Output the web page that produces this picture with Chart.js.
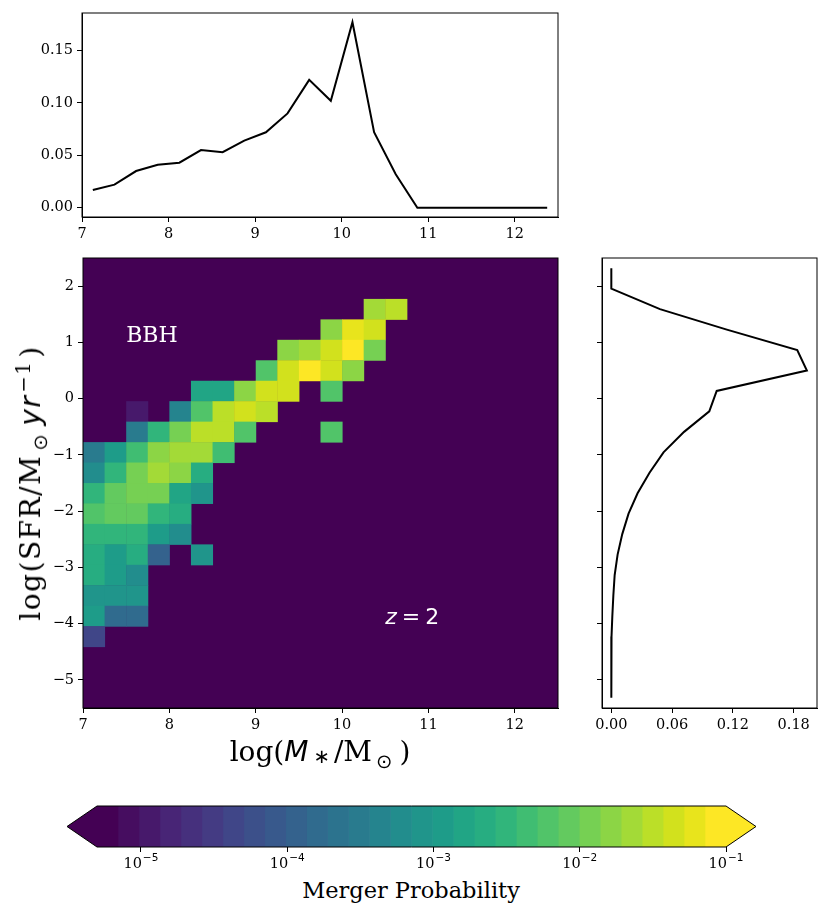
<!DOCTYPE html>
<html>
<head>
<meta charset="utf-8">
<script src="https://cdn.jsdelivr.net/npm/chart.js@4.4.0/dist/chart.umd.min.js"></script>
<style>
  body { margin: 0; background: #fff; width: 831px; height: 914px; position: relative; overflow: hidden; font-family: 'DejaVu Serif', serif; }
  .box { position: absolute; }
  .lbl { position: absolute; white-space: nowrap; color: #000; transform: translate(-50%, -50%); line-height: 1; }
  .lbl sub, .lbl sup { font-size: 70%; line-height: 0; }
  .mi { font-family: 'DejaVu Sans', sans-serif; font-style: italic; }
  .sun { font-family: 'DejaVu Sans', sans-serif; margin: 0 7px 0 4px; }
  .ast { font-family: 'DejaVu Sans', sans-serif; margin: 0 4px 0 5px; vertical-align: -0.1em; }
  #ylab { transform: translate(-50%, -50%) rotate(-90deg); letter-spacing: 1.5px; }
  #ylab sup { margin: 0 3px 0 2px; }
</style>
</head>
<body>
<div class="box" style="left:0;top:0;width:570px;height:245px"><canvas id="chartTop"></canvas></div>
<div class="box" style="left:0;top:245px;width:570px;height:493px"><canvas id="chartMain"></canvas></div>
<div class="box" style="left:560px;top:245px;width:271px;height:493px"><canvas id="chartSide"></canvas></div>
<div class="box" style="left:0;top:790px;width:831px;height:80px"><canvas id="chartBar"></canvas></div>
<div class="lbl" id="ylab" style="left:31px;top:483px;font-size:28px">log(SFR/M<sub class="sun">⊙</sub><span class="mi">yr</span><sup>−1</sup>)</div>
<div class="lbl" id="xlab" style="left:320px;top:752px;font-size:28px">log(<span class="mi">M</span><sub class="ast">∗</sub>/M<sub class="sun">⊙</sub>)</div>
<div class="lbl" id="cblab" style="left:411px;top:890px;font-size:22.5px">Merger Probability</div>
<script>
// Datos de la figura
const massCenters = [7.125, 7.375, 7.625, 7.875, 8.125, 8.375, 8.625, 8.875, 9.125, 9.375, 9.625,
  9.875, 10.125, 10.375, 10.625, 10.875, 11.125, 11.375, 11.625, 11.875, 12.125, 12.375];
const sfrCenters = [2.318, 1.955, 1.591, 1.227, 0.864, 0.500, 0.136, -0.227, -0.591, -0.955, -1.318,
  -1.682, -2.045, -2.409, -2.773, -3.136, -3.500, -3.864, -4.227, -4.591, -4.955, -5.318];

// Distribución marginal en masa (panel superior)
const massMarginal = [0.017, 0.022, 0.035, 0.041, 0.043, 0.055, 0.053, 0.064, 0.072, 0.090, 0.122,
  0.102, 0.177, 0.072, 0.032, 0, 0, 0, 0, 0, 0, 0];
// Distribución marginal en SFR (panel derecho)
const sfrMarginal = [0, 0, 0.048, 0.114, 0.1835, 0.193, 0.104, 0.0967, 0.0718, 0.0515, 0.0377,
  0.0259, 0.017, 0.0108, 0.0062, 0.0033, 0.002, 0.001, 0.0002, 0, 0, 0];

// Celdas del mapa: índice de fila SFR (desde arriba), índice de columna de masa, probabilidad
const cellSfrBin = [2, 2, 3, 3, 3, 4, 4, 4, 4, 4, 5, 5, 5, 5, 5, 6, 6, 6, 6, 6, 6,
  7, 7, 7, 7, 7, 7, 8, 8, 8, 8, 8, 8, 8, 9, 9, 9, 9, 9, 9, 9, 10, 10, 10, 10, 10, 10,
  11, 11, 11, 11, 11, 11, 12, 12, 12, 12, 12, 13, 13, 13, 13, 13, 14, 14, 14, 14, 14,
  15, 15, 15, 16, 16, 16, 17, 17, 17, 18];
const cellMassBin = [13, 14, 11, 12, 13, 9, 10, 11, 12, 13, 8, 9, 10, 11, 12, 5, 6, 7, 8, 9, 11,
  2, 4, 5, 6, 7, 8, 2, 3, 4, 5, 6, 7, 11, 0, 1, 2, 3, 4, 5, 6, 0, 1, 2, 3, 4, 5,
  0, 1, 2, 3, 4, 5, 0, 1, 2, 3, 4, 0, 1, 2, 3, 4, 0, 1, 2, 3, 5,
  0, 1, 2, 0, 1, 2, 0, 1, 2, 0];
const cellProb = [2.3e-2, 3.7e-2, 1.7e-2, 6.7e-2, 5.0e-2, 1.45e-2, 2.5e-2, 5.0e-2, 0.12, 1.25e-2,
  5.2e-3, 5.0e-2, 0.12, 3.8e-2, 1.7e-2, 1.9e-3, 1.9e-3, 1.9e-2, 5.0e-2, 5.0e-2, 5.2e-3,
  1.1e-5, 4.3e-4, 5.2e-3, 2.8e-2, 5.0e-2, 2.8e-2,
  2.7e-4, 3.1e-3, 1.25e-2, 2.8e-2, 2.8e-2, 5.2e-3, 5.2e-3,
  3.2e-4, 1.16e-3, 4.2e-3, 1.45e-2, 2.05e-2, 2.05e-2, 4.2e-3,
  5.8e-4, 3.1e-3, 1.03e-2, 2.05e-2, 1.45e-2, 2.6e-3,
  3.1e-3, 7.6e-3, 1.03e-2, 1.03e-2, 1.4e-3, 9.5e-4,
  5.2e-3, 7.6e-3, 7.6e-3, 3.1e-3, 1.95e-3,
  3.5e-3, 3.5e-3, 3.5e-3, 1.05e-3, 5.3e-4,
  2.3e-3, 1.16e-3, 2.3e-3, 1.3e-4, 7.3e-4,
  1.95e-3, 1.05e-3, 5.3e-4, 7.3e-4, 7.3e-4, 7.3e-4, 1.05e-3, 1.8e-4, 1.8e-4, 3.7e-5];

// Ejes y etiquetas
const massTicks = [7, 8, 9, 10, 11, 12];
const sfrTicks = [-5, -4, -3, -2, -1, 0, 1, 2];
const topTicks = [0, 0.05, 0.10, 0.15];
const sideTicks = [0, 0.06, 0.12, 0.18];
const cbarTicks = [1e-5, 1e-4, 1e-3, 1e-2, 1e-1];
const cbarTickExps = ['−5', '−4', '−3', '−2', '−1'];

// Rangos de los ejes
const massRange = [7, 12.5];
const sfrRange = [-5.5, 2.5];
const binHalfMass = 0.125;
const binHalfSfr = 0.1818;
const cbarLogMin = -5.3;
const cbarLogMax = -1;
const cbarLevels = 30;

// Paleta viridis (21 puntos de anclaje)
const VIRIDIS = ['#440154', '#471365', '#482475', '#463480', '#414487', '#3b528b', '#355f8d',
  '#2f6c8e', '#2a788e', '#25848e', '#21918c', '#1e9c89', '#22a884', '#2fb47c', '#44bf70',
  '#5ec962', '#7ad151', '#9bd93c', '#bddf26', '#dfe318', '#fde725'];

function hexToRgb(h) {
  return [parseInt(h.substr(1, 2), 16), parseInt(h.substr(3, 2), 16), parseInt(h.substr(5, 2), 16)];
}

function viridis(t) {
  t = Math.max(0, Math.min(1, t));
  const pos = t * (VIRIDIS.length - 1);
  const i = Math.min(Math.floor(pos), VIRIDIS.length - 2);
  const f = pos - i;
  const a = hexToRgb(VIRIDIS[i]);
  const b = hexToRgb(VIRIDIS[i + 1]);
  const c = a.map((v, k) => Math.round(v + (b[k] - v) * f));
  return 'rgb(' + c.join(',') + ')';
}

// Color discreto según el nivel logarítmico
function probColor(p) {
  if (!(p > 0)) return VIRIDIS[0];
  const step = (cbarLogMax - cbarLogMin) / cbarLevels;
  const level = Math.floor((Math.log10(p) - cbarLogMin) / step);
  if (level < 0) return VIRIDIS[0];
  if (level >= cbarLevels) return VIRIDIS[VIRIDIS.length - 1];
  return viridis(level / (cbarLevels - 1));
}

const tickFont = { family: 'DejaVu Serif', size: 14.5 };

function axis(kind, min, max, ticks, fmt, size, showLabels) {
  const isX = kind === 'x';
  return {
    type: 'linear',
    position: isX ? 'bottom' : 'left',
    min: min,
    max: max,
    afterBuildTicks: s => { s.ticks = ticks.map(v => ({ value: v })); },
    afterFit: s => {
      if (isX) { s.height = size; } else { s.width = size; }
      s.paddingLeft = 0; s.paddingRight = 0; s.paddingTop = 0; s.paddingBottom = 0;
    },
    ticks: {
      display: showLabels,
      callback: fmt,
      font: tickFont,
      color: '#000',
      padding: 4,
      maxRotation: 0,
      autoSkip: false
    },
    grid: { drawOnChartArea: false, color: '#000', tickLength: 5, tickWidth: 1 },
    border: { color: '#000', width: 1 }
  };
}

// Marco completo alrededor del área del gráfico
const framePlugin = {
  id: 'frame',
  afterDraw(chart) {
    const a = chart.chartArea;
    const ctx = chart.ctx;
    ctx.save();
    ctx.strokeStyle = '#000';
    ctx.lineWidth = 1;
    ctx.strokeRect(a.left, a.top, a.right - a.left, a.bottom - a.top);
    ctx.restore();
  }
};

// Dibuja las celdas del histograma 2D con las escalas de Chart.js
const heatmapPlugin = {
  id: 'heatmap',
  beforeDatasetsDraw(chart) {
    const a = chart.chartArea;
    const xs = chart.scales.x;
    const ys = chart.scales.y;
    const ctx = chart.ctx;
    ctx.save();
    ctx.fillStyle = VIRIDIS[0];
    ctx.fillRect(a.left, a.top, a.right - a.left, a.bottom - a.top);
    chart.data.datasets[0].data.forEach(d => {
      const x0 = xs.getPixelForValue(d.x - binHalfMass);
      const x1 = xs.getPixelForValue(d.x + binHalfMass);
      const y0 = ys.getPixelForValue(d.y + binHalfSfr);
      const y1 = ys.getPixelForValue(d.y - binHalfSfr);
      ctx.fillStyle = probColor(d.p);
      ctx.fillRect(x0, y0, x1 - x0 + 0.5, y1 - y0 + 0.5);
    });
    ctx.restore();
  },
  afterDatasetsDraw(chart) {
    const xs = chart.scales.x;
    const ys = chart.scales.y;
    const ctx = chart.ctx;
    ctx.save();
    ctx.fillStyle = '#fff';
    ctx.textBaseline = 'alphabetic';
    ctx.textAlign = 'left';
    ctx.font = '22px "DejaVu Serif"';
    ctx.fillText('BBH', xs.getPixelForValue(7.5), ys.getPixelForValue(1.0));
    // Texto z = 2 (z en cursiva)
    let px = xs.getPixelForValue(10.5);
    const py = ys.getPixelForValue(-4.0);
    ctx.font = 'italic 22px "DejaVu Sans"';
    ctx.fillText('z', px, py);
    px += ctx.measureText('z').width + 5;
    ctx.font = '22px "DejaVu Sans"';
    ctx.fillText('=', px, py);
    px += ctx.measureText('=').width + 5;
    ctx.fillText('2', px, py);
    ctx.restore();
  }
};

const fmt2 = v => v.toFixed(2);
const fmtInt = v => String(v).replace('-', '−');

// Panel superior: marginal en masa
new Chart(document.getElementById('chartTop'), {
  type: 'scatter',
  data: {
    datasets: [{
      data: massCenters.map((m, i) => ({ x: m, y: massMarginal[i] })),
      showLine: true,
      borderColor: '#000',
      borderWidth: 2,
      pointRadius: 0,
      tension: 0
    }]
  },
  options: {
    responsive: true,
    maintainAspectRatio: false,
    animation: false,
    layout: { padding: { left: 0, right: 12, top: 13, bottom: 0 } },
    plugins: { legend: { display: false }, tooltip: { enabled: false } },
    scales: {
      x: axis('x', massRange[0], massRange[1], massTicks, fmtInt, 28, true),
      y: axis('y', -0.00885, 0.1858, topTicks, fmt2, 82, true)
    }
  },
  plugins: [framePlugin]
});

// Panel principal: mapa de probabilidad
new Chart(document.getElementById('chartMain'), {
  type: 'scatter',
  data: {
    datasets: [{
      data: cellProb.map((p, i) => ({ x: massCenters[cellMassBin[i]], y: sfrCenters[cellSfrBin[i]], p: p })),
      pointRadius: 0
    }]
  },
  options: {
    responsive: true,
    maintainAspectRatio: false,
    animation: false,
    layout: { padding: { left: 0, right: 12, top: 13, bottom: 0 } },
    plugins: { legend: { display: false }, tooltip: { enabled: false } },
    scales: {
      x: axis('x', massRange[0], massRange[1], massTicks, fmtInt, 30, true),
      y: axis('y', sfrRange[0], sfrRange[1], sfrTicks, fmtInt, 83, true)
    }
  },
  plugins: [heatmapPlugin, framePlugin]
});

// Panel derecho: marginal en SFR
new Chart(document.getElementById('chartSide'), {
  type: 'scatter',
  data: {
    datasets: [{
      data: sfrCenters.map((s, i) => ({ x: sfrMarginal[i], y: s })),
      showLine: true,
      borderColor: '#000',
      borderWidth: 2,
      pointRadius: 0,
      tension: 0
    }]
  },
  options: {
    responsive: true,
    maintainAspectRatio: false,
    animation: false,
    layout: { padding: { left: 0, right: 14, top: 13, bottom: 0 } },
    plugins: { legend: { display: false }, tooltip: { enabled: false } },
    scales: {
      x: axis('x', -0.0092, 0.203, sideTicks, fmt2, 30, true),
      y: axis('y', sfrRange[0], sfrRange[1], sfrTicks, fmtInt, 42, false)
    }
  },
  plugins: [framePlugin]
});

// Barra de color con extremos triangulares
const cbarStep = (cbarLogMax - cbarLogMin) / cbarLevels;
const cbarDatasets = [];
for (let i = 0; i < cbarLevels; i++) {
  cbarDatasets.push({
    data: [[Math.pow(10, cbarLogMin + i * cbarStep), Math.pow(10, cbarLogMin + (i + 1) * cbarStep)]],
    backgroundColor: viridis(i / (cbarLevels - 1)),
    borderWidth: 0,
    grouped: false,
    barPercentage: 1,
    categoryPercentage: 1
  });
}

const cbarEndsPlugin = {
  id: 'cbarEnds',
  afterDatasetsDraw(chart) {
    const a = chart.chartArea;
    const ctx = chart.ctx;
    const tip = 30;
    const mid = (a.top + a.bottom) / 2;
    ctx.save();
    ctx.fillStyle = VIRIDIS[0];
    ctx.beginPath();
    ctx.moveTo(a.left, a.top); ctx.lineTo(a.left - tip, mid); ctx.lineTo(a.left, a.bottom);
    ctx.closePath(); ctx.fill();
    ctx.fillStyle = VIRIDIS[VIRIDIS.length - 1];
    ctx.beginPath();
    ctx.moveTo(a.right, a.top); ctx.lineTo(a.right + tip, mid); ctx.lineTo(a.right, a.bottom);
    ctx.closePath(); ctx.fill();
    ctx.strokeStyle = '#000';
    ctx.lineWidth = 1;
    ctx.beginPath();
    ctx.moveTo(a.left, a.top); ctx.lineTo(a.right, a.top); ctx.lineTo(a.right + tip, mid);
    ctx.lineTo(a.right, a.bottom); ctx.lineTo(a.left, a.bottom); ctx.lineTo(a.left - tip, mid);
    ctx.closePath(); ctx.stroke();
    ctx.restore();
  },
  afterDraw(chart) {
    // Etiquetas 10^n con exponente elevado
    const xs = chart.scales.x;
    const a = chart.chartArea;
    const ctx = chart.ctx;
    const base = a.bottom + 21;
    ctx.save();
    ctx.fillStyle = '#000';
    ctx.textBaseline = 'alphabetic';
    ctx.textAlign = 'left';
    cbarTicks.forEach((v, i) => {
      ctx.font = '14.5px "DejaVu Serif"';
      const wBase = ctx.measureText('10').width;
      ctx.font = '10.5px "DejaVu Sans"';
      const wExp = ctx.measureText(cbarTickExps[i]).width;
      const x0 = xs.getPixelForValue(v) - (wBase + wExp + 1) / 2;
      ctx.font = '14.5px "DejaVu Serif"';
      ctx.fillText('10', x0, base);
      ctx.font = '10.5px "DejaVu Sans"';
      ctx.fillText(cbarTickExps[i], x0 + wBase + 1, base - 7);
    });
    ctx.restore();
  }
};

new Chart(document.getElementById('chartBar'), {
  type: 'bar',
  data: { labels: [''], datasets: cbarDatasets },
  options: {
    indexAxis: 'y',
    responsive: true,
    maintainAspectRatio: false,
    animation: false,
    layout: { padding: { left: 97, right: 105, top: 16, bottom: 0 } },
    plugins: { legend: { display: false }, tooltip: { enabled: false } },
    scales: {
      x: {
        type: 'logarithmic',
        min: Math.pow(10, cbarLogMin),
        max: Math.pow(10, cbarLogMax),
        afterBuildTicks: s => { s.ticks = cbarTicks.map(v => ({ value: v })); },
        afterFit: s => { s.height = 23; s.paddingLeft = 0; s.paddingRight = 0; },
        ticks: { display: false },
        grid: { drawOnChartArea: false, color: '#000', tickLength: 5, tickWidth: 1 },
        border: { display: false }
      },
      y: { display: false }
    }
  },
  plugins: [cbarEndsPlugin]
});
</script>
</body>
</html>
